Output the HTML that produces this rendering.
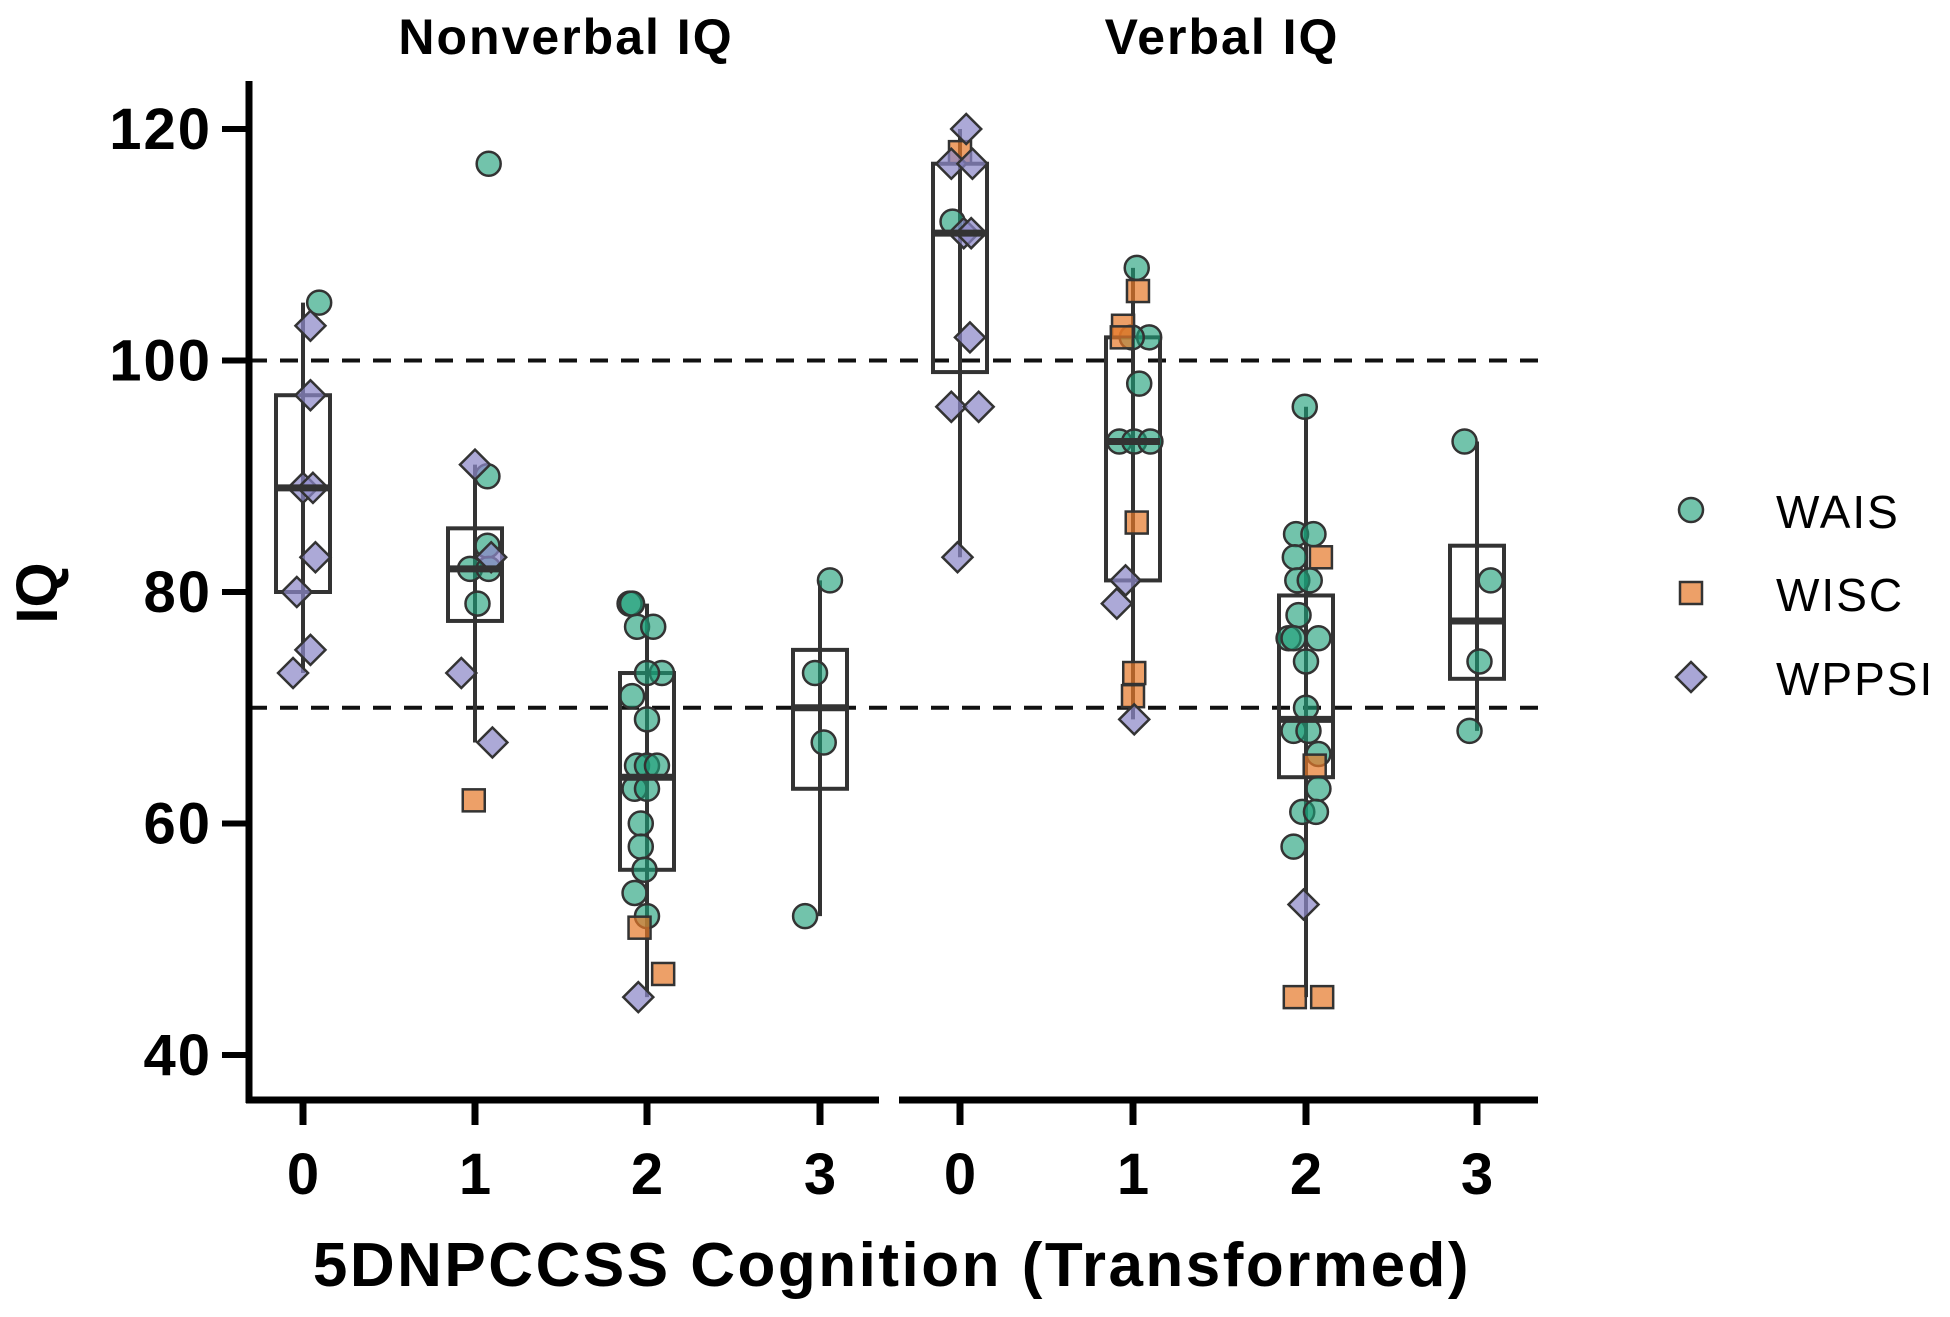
<!DOCTYPE html>
<html><head><meta charset="utf-8"><style>
html,body{margin:0;padding:0;background:#fff;}
svg{display:block;font-family:"Liberation Sans",Arial,sans-serif;}
</style></head><body>
<svg id="chart" width="1950" height="1317" viewBox="0 0 1950 1317" xmlns="http://www.w3.org/2000/svg">
<text x="566" y="54" font-size="50" font-weight="bold" letter-spacing="2" text-anchor="middle">Nonverbal IQ</text>
<text x="1222" y="54" font-size="50" font-weight="bold" letter-spacing="2" text-anchor="middle">Verbal IQ</text>
<text x="892" y="1286" font-size="62" font-weight="bold" letter-spacing="2.5" text-anchor="middle">5DNPCCSS Cognition (Transformed)</text>
<text transform="translate(57,593) rotate(-90)" font-size="58" font-weight="bold" text-anchor="middle">IQ</text>
<g id="legend">
<circle cx="1691" cy="510" r="12" fill="rgba(27,158,119,0.62)" stroke="#333" stroke-width="2.5"/>
<text x="1776" y="528" font-size="46" letter-spacing="2">WAIS</text>
<rect x="1680" y="582" width="22" height="22" fill="rgba(230,120,40,0.7)" stroke="#333" stroke-width="2.5"/>
<text x="1776" y="611" font-size="46" letter-spacing="2">WISC</text>
<polygon points="1691,662 1706,677 1691,692 1676,677" fill="rgba(140,136,200,0.75)" stroke="#333" stroke-width="2.5"/>
<text x="1776" y="695" font-size="46" letter-spacing="2">WPPSI</text>
</g>
</svg>
<script>
const yTicks = [40, 60, 80, 100, 120];
const categories = ["0", "1", "2", "3"];
const refLines = [100, 70];
// box stats per panel per category: [min, q1, median, q3, max]
const nonverbalBoxes = [[73,80,89,97,105],[67,77.5,82,85.5,91],[45,56,64,73,79],[52,63,70,75,81]];
const verbalBoxes = [[83,99,111,117,120],[69,81,93,102,108],[45,64,69,79.7,96],[68,72.5,77.5,84,93]];
// points: [category, value, jitter]
const nonverbalWAIS = [[0,105,13],[1,117,11],[1,90,10],[1,84,10],[1,82,-4],[1,82,11],[1,79,2],
 [2,79,-14],[2,79,-12],[2,77,-8],[2,77,5],[2,73,12],[2,73,0],[2,71,-12],[2,69,0],[2,65,-8],[2,65,0],[2,65,8],[2,63,-10],[2,63,0],[2,60,-5],[2,58,-5],[2,56,-2],[2,54,-10],[2,52,0],
 [3,81,8],[3,73,-4],[3,67,3],[3,52,-12]];
const nonverbalWISC = [[1,62,-1],[2,51,-6],[2,47,13]];
const nonverbalWPPSI = [[0,103,6],[0,97,6],[0,89,0],[0,89,8],[0,83,10],[0,80,-5],[0,75,6],[0,73,-8],
 [1,91,0],[1,83,13],[1,73,-11],[1,67,14],[2,45,-7]];
const verbalWAIS = [[0,112,-6],[1,108,3],[1,102,13],[1,98,5],[1,93,-11],[1,93,1],[1,93,14],[1,102,-1],
 [2,96,-1],[2,85,-8],[2,85,6],[2,83,-9],[2,81,-7],[2,81,3],[2,78,-6],[2,76,-14],[2,76,-10],[2,76,10],[2,74,0],[2,70,0],[2,68,-10],[2,68,2],[2,66,10],[2,63,10],[2,61,-3],[2,61,8],[2,58,-10],
 [3,93,-10],[3,81,11],[3,74,2],[3,68,-6]];
const verbalWISC = [[0,118,0],[1,106,4],[1,103,-8],[1,102,-9],[1,86,3],[1,73,1],[1,71,0],[2,83,12],[2,65,7],[2,45,-9],[2,45,13]];
const verbalWPPSI = [[0,120,5],[0,117,-7],[0,117,10],[0,111,3],[0,111,9],[0,102,8],[0,96,-7],[0,96,15],[0,83,-2],
 [1,81,-6],[1,79,-13],[1,69,1],[2,53,-2]];

const NS = "http://www.w3.org/2000/svg";
const svg = document.getElementById("chart");
const S = 1.2436;
function y(v){ return 129 + (120 - v) * (926/80); }
const panels = [
  {name:"nonverbal", x0:249, x1:879, cx:[303,475,647,820], boxes:nonverbalBoxes, wais:nonverbalWAIS, wisc:nonverbalWISC, wppsi:nonverbalWPPSI},
  {name:"verbal", x0:902, x1:1538, cx:[960,1133,1306,1477], boxes:verbalBoxes, wais:verbalWAIS, wisc:verbalWISC, wppsi:verbalWPPSI}
];
function mk(tag, attrs){ const e=document.createElementNS(NS,tag); for(const k in attrs) e.setAttribute(k,attrs[k]); svg.appendChild(e); return e; }

refLines.forEach(v=>{
  const l = mk("line",{x1:249,x2:1538,y1:y(v),y2:y(v),stroke:"#111","stroke-width":4,"stroke-dasharray":"18 13"});
  
  
});
const ya = mk("line",{x1:249,x2:249,y1:81,y2:1103,stroke:"#000","stroke-width":7});


yTicks.forEach(v=>{
  const t = mk("line",{x1:222,x2:249,y1:y(v),y2:y(v),stroke:"#000","stroke-width":6});
  
  
  const tx = mk("text",{x:212,y:y(v)+20,"font-size":58,"font-weight":"bold","text-anchor":"end","letter-spacing":2});
  tx.textContent = v;
  
  
});
panels.forEach(p=>{
  const xa = mk("line",{x1:p.x0-3,x2:p.x1,y1:1100,y2:1100,stroke:"#000","stroke-width":7});
  
  
  categories.forEach((c,i)=>{
    const t = mk("line",{x1:p.cx[i],x2:p.cx[i],y1:1100,y2:1125,stroke:"#000","stroke-width":7});
    
    
    const tx = mk("text",{x:p.cx[i],y:1194,"font-size":58,"font-weight":"bold","text-anchor":"middle"});
    tx.textContent = c;
    
    
  });
  p.boxes.forEach((b,i)=>{
    const cx = p.cx[i], hw = 27;
    const w = mk("line",{x1:cx,x2:cx,y1:y(b[0]),y2:y(b[4]),stroke:"#333","stroke-width":4});
    
    
    const r = mk("rect",{x:cx-hw,y:y(b[3]),width:2*hw,height:y(b[1])-y(b[3]),fill:"none",stroke:"#333","stroke-width":4});
    
    
  });
  function cxOf(d){ return p.cx[d[0]] + d[2]*S; }
  p.wais.forEach(d=>{
    const c = mk("circle",{cx:cxOf(d),cy:y(d[1]),r:12,fill:"rgba(27,158,119,0.62)",stroke:"#333","stroke-width":2.5});
    
    
  });
  p.wisc.forEach(d=>{
    const c = mk("rect",{x:cxOf(d)-11,y:y(d[1])-11,width:22,height:22,fill:"rgba(230,120,40,0.7)",stroke:"#333","stroke-width":2.5});
    
    
  });
  p.wppsi.forEach(d=>{
    const X=cxOf(d), Y=y(d[1]);
    const c = mk("polygon",{points:`${X},${Y-15} ${X+15},${Y} ${X},${Y+15} ${X-15},${Y}`,fill:"rgba(140,136,200,0.72)",stroke:"#333","stroke-width":2.5});
    
    
  });
  p.boxes.forEach((b,i)=>{
    const cx = p.cx[i];
    const m = mk("line",{x1:cx-27,x2:cx+27,y1:y(b[2]),y2:y(b[2]),stroke:"#333","stroke-width":7});
    
    
  });
});
</script>
</body></html>
